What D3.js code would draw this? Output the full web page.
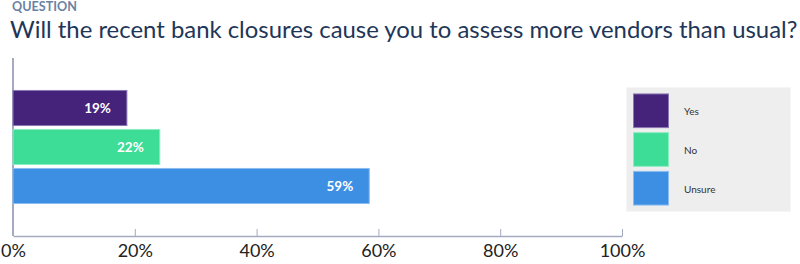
<!DOCTYPE html>
<html><head><meta charset="utf-8">
<script src="https://cdn.jsdelivr.net/npm/d3@7"></script>
<style>
body{margin:0;background:#fff;}
svg{display:block;font-family:Lato,"Open Sans",sans-serif;}
</style></head>
<body>
<svg id="c" width="800" height="264"></svg>
<script>
const categories = ["Yes", "No", "Unsure"];
const values = [18.7, 24.1, 58.5];
const valueLabels = ["19%", "22%", "59%"];
const colors = ["#46237a", "#3ddc97", "#3d8fe3"];
const strokes = ["#8a78b4", "#8cedc2", "#8cbdf0"];
const tickValues = [0, 20, 40, 60, 80, 100];
const tickLabels = ["0%", "20%", "40%", "60%", "80%", "100%"];

const svg = d3.select("#c");

svg.append("text").attr("x", 12).attr("y", 11)
  .attr("font-size", 12.6).attr("font-weight", 700).attr("fill", "#6b82a3")
  .text("QUESTION");
svg.append("text").attr("x", 10).attr("y", 37.5)
  .attr("font-size", 23.9).attr("fill", "#1e3658")
  .text("Will the recent bank closures cause you to assess more vendors than usual?");

const x = d3.scaleLinear().domain([0, 100]).range([13, 622]);
const y = d3.scaleBand().domain(categories).range([88.5, 205.5]).paddingInner(0.1).paddingOuter(0.05);

// axis y line
svg.append("line").attr("x1", 13).attr("x2", 13).attr("y1", 58).attr("y2", 236)
  .attr("stroke", "#a3abc2").attr("stroke-width", 2);

// x axis
const xa = svg.append("g").attr("transform", "translate(0,236)")
  .call(d3.axisBottom(x).tickValues(tickValues).tickFormat((d, i) => tickLabels[i]).tickSizeInner(-7).tickSizeOuter(0).tickPadding(12));
xa.select(".domain").attr("stroke", "#a3abc2").attr("stroke-width", 1.5);
xa.selectAll(".tick line").attr("stroke", "#a3abc2");
xa.selectAll(".tick text").attr("font-size", 18).attr("fill", "#222").attr("font-family", "Lato,sans-serif").attr("dy", "0.71em").attr("y", 8);

// bars
svg.selectAll("rect.bar").data(categories).join("rect").attr("class", "bar")
  .attr("x", x(0)).attr("y", d => y(d))
  .attr("width", (d, i) => x(values[i]) - x(0)).attr("height", y.bandwidth())
  .attr("fill", (d, i) => colors[i]).attr("stroke", (d, i) => strokes[i]).attr("stroke-width", 1);

svg.selectAll("text.vl").data(categories).join("text").attr("class", "vl")
  .attr("x", (d, i) => x(values[i]) - 16).attr("y", d => y(d) + y.bandwidth() / 2)
  .attr("dy", "0.35em").attr("text-anchor", "end")
  .attr("font-size", 13.5).attr("font-weight", 700).attr("fill", "#fff")
  .text((d, i) => valueLabels[i]);

// legend
const lg = svg.append("g");
lg.append("rect").attr("x", 626.5).attr("y", 87.5).attr("width", 164).attr("height", 124)
  .attr("fill", "#eeeeee").attr("stroke", "#f6f6f6");
const ly = d3.scaleBand().domain(categories).range([92, 207]).paddingInner(0.13).paddingOuter(0.05);
lg.selectAll("rect.sw").data(categories).join("rect").attr("class", "sw")
  .attr("x", 633.5).attr("y", d => ly(d)).attr("width", 35).attr("height", ly.bandwidth())
  .attr("fill", (d, i) => colors[i]).attr("stroke", (d, i) => strokes[i]);
lg.selectAll("text.lt").data(categories).join("text").attr("class", "lt")
  .attr("x", 684).attr("y", d => ly(d) + ly.bandwidth() / 2 + 1).attr("dy", "0.35em")
  .attr("font-size", 10).attr("fill", "#333").text(d => d);
</script>
</body></html>
